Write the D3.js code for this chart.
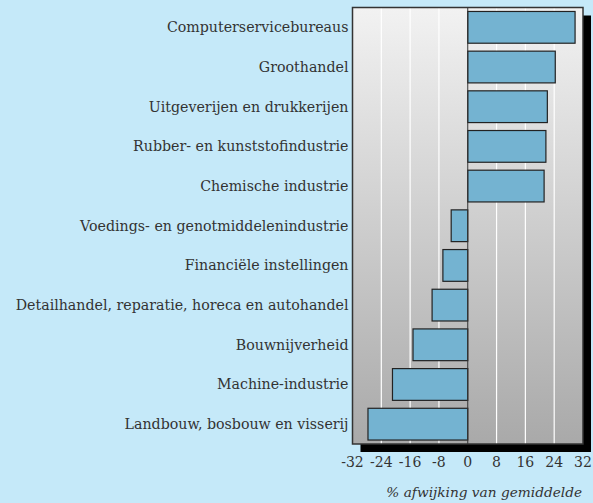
<!DOCTYPE html>
<html><head><meta charset="utf-8">
<script src="https://cdn.jsdelivr.net/npm/d3@7/dist/d3.min.js"></script>
<style>html,body{margin:0;padding:0;background:#c5e9f9;}</style>
</head><body>
<script>
const categories = ["Computerservicebureaus","Groothandel","Uitgeverijen en drukkerijen","Rubber- en kunststofindustrie","Chemische industrie","Voedings- en genotmiddelenindustrie","Financiële instellingen","Detailhandel, reparatie, horeca en autohandel","Bouwnijverheid","Machine-industrie","Landbouw, bosbouw en visserij"];
const values = [29.8, 24.3, 22.1, 21.7, 21.2, -4.6, -6.9, -9.9, -15.2, -20.9, -27.7];
const ticks = [-32,-24,-16,-8,0,8,16,24,32];
const axisTitle = "% afwijking van gemiddelde";

const W = 593, H = 503;
const m = {l:352.5, r:583, t:7.5, b:444};
const svg = d3.select("body").append("svg").attr("width",W).attr("height",H)
  .style("font-family","'DejaVu Serif', serif");
svg.append("rect").attr("width",W).attr("height",H).attr("fill","#c5e9f9");

const x = d3.scaleLinear().domain([-32,32]).range([m.l,m.r]);
const y = d3.scaleBand().domain(categories).range([m.t,m.b]).paddingInner(0.2).paddingOuter(0.1);

const defs = svg.append("defs");
const g = defs.append("linearGradient").attr("id","bg").attr("x1",0).attr("y1",0).attr("x2",0).attr("y2",1);
g.append("stop").attr("offset","0%").attr("stop-color","#f2f2f2");
g.append("stop").attr("offset","100%").attr("stop-color","#a9a9a9");

// shadow
svg.append("rect").attr("x",m.l+8).attr("y",m.t+8).attr("width",m.r-m.l).attr("height",m.b-m.t).attr("fill","#000");
svg.append("rect").attr("x",m.l).attr("y",m.t).attr("width",m.r-m.l).attr("height",m.b-m.t).attr("fill","url(#bg)");

// gridlines
svg.append("g").selectAll("line").data(ticks.filter(t=>t>-32 && t<32 && t!==0)).join("line")
  .attr("x1",d=>x(d)).attr("x2",d=>x(d)).attr("y1",m.t).attr("y2",m.b)
  .attr("stroke","#fff").attr("stroke-width",1.2);

// bars
svg.append("g").selectAll("rect").data(values).join("rect")
  .attr("x",d=>x(Math.min(0,d))).attr("width",d=>Math.abs(x(d)-x(0)))
  .attr("y",(d,i)=>y(categories[i])).attr("height",y.bandwidth())
  .attr("fill","#74b3d1").attr("stroke","#222").attr("stroke-width",1.2);

// zero line
svg.append("line").attr("x1",x(0)).attr("x2",x(0)).attr("y1",m.t).attr("y2",m.b).attr("stroke","#333").attr("stroke-width",1);

// frame
svg.append("rect").attr("x",m.l).attr("y",m.t).attr("width",m.r-m.l).attr("height",m.b-m.t)
  .attr("fill","none").attr("stroke","#333").attr("stroke-width",1.5);

// category labels
svg.append("g").selectAll("text").data(categories).join("text")
  .attr("x",m.l-4).attr("y",d=>y(d)+y.bandwidth()/2).attr("dy","0.35em")
  .attr("text-anchor","end").attr("font-size",14.2).attr("fill","#333").text(d=>d);

// x tick labels
svg.append("g").selectAll("text").data(ticks).join("text")
  .attr("x",d=>x(d)).attr("y",467).attr("text-anchor","middle")
  .attr("font-size",14).attr("fill","#333").text(d=>d);

svg.append("text").attr("x",582).attr("y",497).attr("text-anchor","end")
  .attr("font-size",13.7).attr("font-style","italic").attr("fill","#333").text(axisTitle);
</script>
</body></html>
